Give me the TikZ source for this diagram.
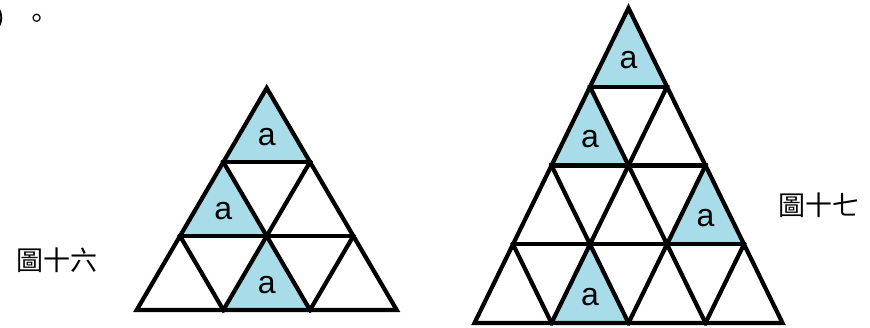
\documentclass[tikz,border=0pt]{standalone}
\usepackage{fontspec}
\setmainfont{Liberation Sans}
\newfontfamily\cjk{Noto Sans CJK TC}
\definecolor{cellfill}{RGB}{168,220,232}
\newcommand\mkpts[6]{% #1 name, #2 apex x, #3 apex y, #4 width, #5 height, #6 rows
  \foreach \i in {0,...,#6}{\foreach \j in {0,...,\i}{
    \coordinate (#1-\i-\j) at ({#2+(\j-\i/2)*#4/#6},{#3+\i*#5/#6});}}}
\newcommand\upcell[3]{% name, row (1-based), position
  \pgfmathtruncatemacro\ra{#2-1}\pgfmathtruncatemacro\pb{#3+1}%
  \fill[cellfill] (#1-\ra-#3) -- (#1-#2-#3) -- (#1-#2-\pb) -- cycle;}
\newcommand\uplabel[3]{%
  \pgfmathtruncatemacro\ra{#2-1}\pgfmathtruncatemacro\pb{#3+1}%
  \node[lab] at (barycentric cs:#1-\ra-#3=1,#1-#2-#3=1,#1-#2-\pb=1) {a};}
\newcommand\gridlines[2]{% name, rows
  \draw[gridline] (#1-0-0) -- (#1-#2-0) -- (#1-#2-#2) -- cycle;
  \foreach \k in {1,...,\numexpr#2-1\relax}{
    \pgfmathtruncatemacro\m{#2-\k}
    \draw[gridline] (#1-\k-0) -- (#1-\k-\k);
    \draw[gridline] (#1-\k-\k) -- (#1-#2-\k);
    \draw[gridline] (#1-\k-0) -- (#1-#2-\m);}}
\begin{document}
\begin{tikzpicture}[x=1pt,y=-1pt,
  gridline/.style={line width=4.2pt, line join=miter, line cap=rect},
  lab/.style={font=\fontsize{32}{32}\selectfont, inner sep=0pt},
  caption/.style={font=\cjk\fontsize{27}{27}\selectfont, inner sep=0pt}]
\useasboundingbox (0,0) rectangle (870,327);
\mkpts{L}{266.7}{88}{260}{222}{3}
\mkpts{R}{628.5}{8}{308}{315}{4}
\upcell{L}{1}{0}\upcell{L}{2}{0}\upcell{L}{3}{1}
\upcell{R}{1}{0}\upcell{R}{2}{0}\upcell{R}{3}{2}\upcell{R}{4}{1}
\gridlines{L}{3}
\gridlines{R}{4}
\uplabel{L}{1}{0}\uplabel{L}{2}{0}\uplabel{L}{3}{1}
\uplabel{R}{1}{0}\uplabel{R}{2}{0}\uplabel{R}{3}{2}\uplabel{R}{4}{1}
\node[caption] (c16) at (57,260) {圖十六};
\node[caption] (c17) at (819,205) {圖十七};
\node[caption, anchor=west] (top) at (-6,18) {）\hspace{2pt}。};
\end{tikzpicture}
\end{document}
